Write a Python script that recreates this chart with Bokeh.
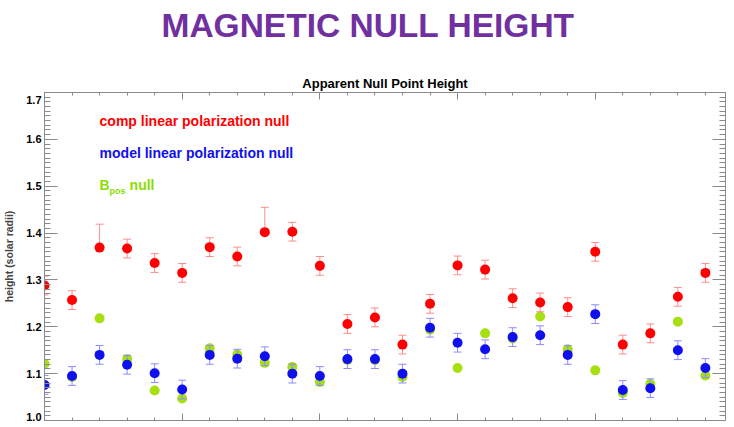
from bokeh.plotting import figure
from bokeh.models import (LinearAxis, SingleIntervalTicker, FixedTicker, Title, Label, Range1d,
                          ColumnDataSource, CustomJSTickFormatter, PrintfTickFormatter)
from bokeh.embed import file_html
from bokeh.resources import INLINE

# ---- data ----
idx = list(range(25))
comp = [1.288, 1.257, 1.369, 1.367, 1.336, 1.315, 1.370, 1.350, 1.402, 1.403,
        1.330, 1.206, 1.220, 1.162, 1.249, 1.331, 1.322, 1.261, 1.252, 1.242,
        1.360, 1.162, 1.186, 1.264, 1.315]
comp_err_hi = [0.02, 0.02, 0.05, 0.02, 0.02, 0.02, 0.02, 0.02, 0.053, 0.02,
               0.02, 0.02, 0.02, 0.02, 0.02, 0.02, 0.02, 0.02, 0.02, 0.02,
               0.02, 0.02, 0.02, 0.02, 0.02]
comp_err_lo = [0.02, 0.02, 0.005, 0.02, 0.02, 0.02, 0.02, 0.02, 0.005, 0.02,
               0.02, 0.02, 0.02, 0.02, 0.02, 0.02, 0.02, 0.02, 0.02, 0.02,
               0.02, 0.02, 0.02, 0.02, 0.02]
model = [1.076, 1.095, 1.140, 1.119, 1.101, 1.066, 1.140, 1.132, 1.137, 1.100,
         1.095, 1.131, 1.131, 1.100, 1.198, 1.166, 1.152, 1.178, 1.182, 1.140,
         1.227, 1.065, 1.069, 1.150, 1.112]
model_err = [0.02] * 25
bpos = [1.121, 1.093, 1.218, 1.131, 1.064, 1.047, 1.154, 1.141, 1.123, 1.114,
        1.082, 1.129, 1.129, 1.093, 1.194, 1.112, 1.186, 1.175, 1.222, 1.152,
        1.107, 1.059, 1.078, 1.211, 1.096]

y_ticks = [1.0, 1.1, 1.2, 1.3, 1.4, 1.5, 1.6, 1.7]
y_tick_labels = ["1.0", "1.1", "1.2", "1.3", "1.4", "1.5", "1.6", "1.7"]
y_minor = [round(1.0 + i * 0.01, 2) for i in range(71)]

RED = "#ff0000"
BLUE = "#1010ee"
GREEN = "#a6e012"
LEG_GREEN = "#88e000"
RED_ERR = "#ff8c8c"
BLUE_ERR = "#8c8cff"
AXIS = "#8a8a8a"
FONT = "Liberation Sans"

src = ColumnDataSource(dict(
    x=idx, comp=comp,
    comp_hi=[v + e for v, e in zip(comp, comp_err_hi)],
    comp_lo=[v - e for v, e in zip(comp, comp_err_lo)],
    model=model,
    model_hi=[v + e for v, e in zip(model, model_err)],
    model_lo=[v - e for v, e in zip(model, model_err)],
    bpos=bpos,
))

p = figure(width=726, height=419, x_range=Range1d(0, 24.73), y_range=Range1d(1.0, 1.7),
           output_backend="svg", toolbar_location=None,
           min_border_left=41, min_border_right=1, min_border_bottom=2, min_border_top=0)
p.frame_width = 681
p.frame_height = 328
p.outline_line_color = None
p.xgrid.visible = False
p.ygrid.visible = False
p.background_fill_color = "white"
p.border_fill_color = "white"

blank = CustomJSTickFormatter(code="return ''")

def style_axis(ax, major, minor, labels):
    ax.axis_line_color = AXIS
    ax.major_tick_line_color = AXIS
    ax.minor_tick_line_color = AXIS
    ax.major_tick_in = major
    ax.major_tick_out = 0
    ax.minor_tick_in = minor
    ax.minor_tick_out = 0
    if labels:
        ax.major_label_text_font = FONT
        ax.major_label_text_font_style = "bold"
        ax.major_label_text_font_size = "11px"
        ax.major_label_text_color = "black"
        ax.major_label_standoff = 3
    else:
        ax.formatter = blank
        ax.major_label_standoff = 0

p.xaxis.ticker = SingleIntervalTicker(interval=5, num_minor_ticks=5)
p.yaxis.ticker = FixedTicker(ticks=y_ticks, minor_ticks=y_minor)
p.yaxis.formatter = PrintfTickFormatter(format="%.1f")
for ax in p.xaxis:
    style_axis(ax, 7, 3, False)
for ax in p.yaxis:
    style_axis(ax, 13, 6, True)
    # top label kept inside the frame height, as in the reference
    ax.major_label_overrides = {y_ticks[-1]: "\n" + y_tick_labels[-1]}
    ax.axis_label = "height (solar radii)"
    ax.axis_label_text_font = FONT
    ax.axis_label_text_font_style = "bold"
    ax.axis_label_text_font_size = "10.5px"
    ax.axis_label_standoff = 8

top = LinearAxis(ticker=SingleIntervalTicker(interval=5, num_minor_ticks=5))
style_axis(top, 7, 3, False)
right = LinearAxis(ticker=FixedTicker(ticks=y_ticks, minor_ticks=y_minor))
style_axis(right, 13, 6, False)
p.add_layout(top, "above")
p.add_layout(right, "right")

sub = Title(text="Apparent Null Point Height", align="center", text_font=FONT,
            text_font_size="13px", text_font_style="bold", text_color="black", standoff=3)
p.add_layout(sub, "above")

# invisible spacer between the two titles
spacer = LinearAxis(ticker=FixedTicker(ticks=[12], minor_ticks=[]), formatter=blank,
                    axis_line_color=None, major_tick_line_color=None,
                    minor_tick_line_color=None, major_tick_in=0, major_tick_out=24,
                    minor_tick_out=0, major_label_standoff=0)
p.add_layout(spacer, "above")

main = Title(text="MAGNETIC NULL HEIGHT", align="left", text_font=FONT,
             text_font_size="33.5px", text_font_style="bold", text_color="#7030a0",
             offset=117, standoff=9)
p.add_layout(main, "above")

# marks
p.scatter("x", "bpos", source=src, size=10, color=GREEN, line_color=None)
p.segment("x", "comp_lo", "x", "comp_hi", source=src, line_color=RED_ERR, line_width=1)
p.scatter("x", "comp_hi", source=src, marker="dash", size=8, line_color=RED_ERR)
p.scatter("x", "comp_lo", source=src, marker="dash", size=8, line_color=RED_ERR)
p.scatter("x", "comp", source=src, size=10, color=RED, line_color=None)
p.segment("x", "model_lo", "x", "model_hi", source=src, line_color=BLUE_ERR, line_width=1)
p.scatter("x", "model_hi", source=src, marker="dash", size=8, line_color=BLUE_ERR)
p.scatter("x", "model_lo", source=src, marker="dash", size=8, line_color=BLUE_ERR)
p.scatter("x", "model", source=src, size=10, color=BLUE, line_color=None)

# in-plot legend text
def lab(x, y, text, color, size):
    p.add_layout(Label(x=x, y=y, text=text, text_color=color, text_font=FONT,
                       text_font_style="bold", text_font_size=size,
                       text_baseline="alphabetic"))

lab(2.0, 1.640, "comp linear polarization null", RED, "14px")
lab(2.0, 1.571, "model linear polarization null", BLUE, "14px")
lab(2.0, 1.503, "B", LEG_GREEN, "14px")
lab(2.36, 1.489, "pos", LEG_GREEN, "9px")
lab(3.09, 1.503, "null", LEG_GREEN, "14px")

open("out.html", "w").write(file_html(p, INLINE))
